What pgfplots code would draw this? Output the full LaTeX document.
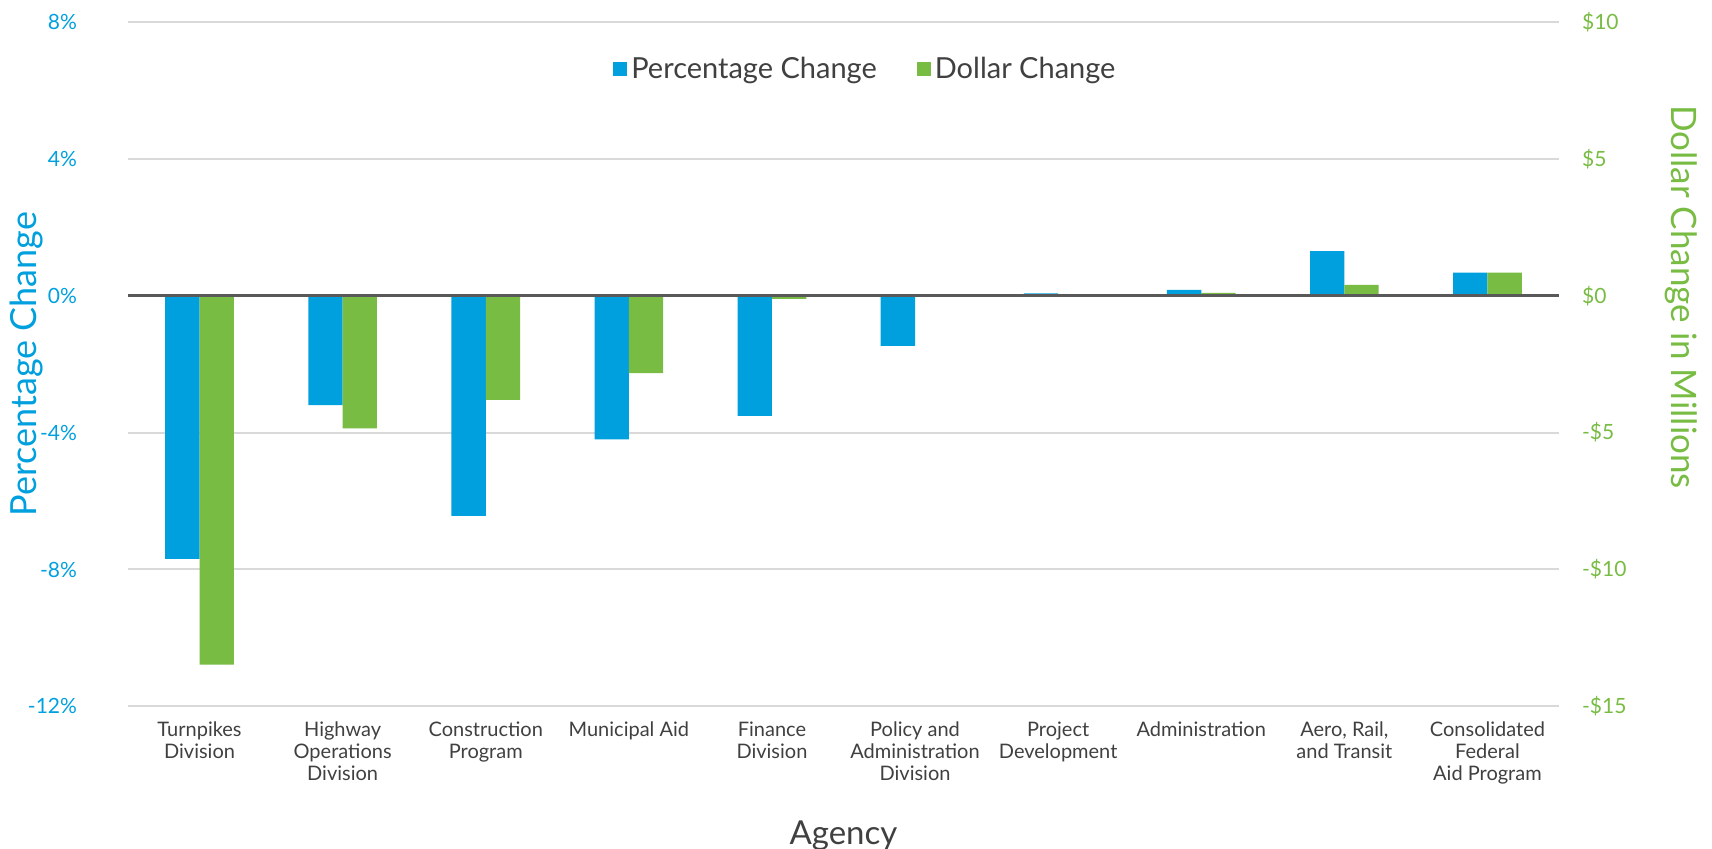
\documentclass[border=0pt]{standalone}
\usepackage{fontspec}
\setmainfont{Lato}
\usepackage{pgfplots}
\pgfplotsset{compat=1.18}
\definecolor{cblue}{RGB}{0,160,223}
\definecolor{cgreen}{RGB}{120,188,67}
\definecolor{cgrid}{RGB}{217,217,217}
\definecolor{ctext}{RGB}{64,64,64}
\definecolor{czero}{RGB}{89,89,89}
\pgfplotsset{
  sqlegend/.style={legend image code/.code={\fill[##1] (0pt,-3.5pt) rectangle (7pt,3.5pt);}},
  common/.style={
    at={(0pt,0pt)}, anchor=south west,
    scale only axis, width=715.5pt, height=342.3pt,
    xmin=-0.5, xmax=9.5,
    ybar, bar width=0.24,
    axis line style={draw=none},
    major tick length=0pt,
    tick style={draw=none},
    /pgf/number format/assume math mode=true,
  }
}
\begin{document}
\begin{tikzpicture}
\begin{axis}[common,
  ymin=-12, ymax=8, ytick={-12,-8,-4,0,4,8},
  yticklabels={-12\%,-8\%,-4\%,0\%,4\%,8\%},
  yticklabel style={anchor=east, xshift=-22pt, text=cblue, font=\fontsize{10.5}{12}\selectfont},
  ymajorgrids, major grid style={cgrid, line width=1pt},
  xtick={0,...,9},
  xticklabels={{Turnpikes\\Division},{Highway\\Operations\\Division},{Construction\\Program},{Municipal Aid},{Finance\\Division},{Policy and\\Administration\\Division},{Project\\Development},{Administration},{Aero, Rail,\\and Transit},{Consolidated\\Federal\\Aid Program}},
  xticklabel style={align=center, anchor=north, yshift=-4pt, text=ctext, font=\fontsize{10}{11}\selectfont},
  xlabel={Agency},
  every axis x label/.style={at={(axis description cs:0.5,0)}, yshift=-64.5pt, anchor=center, text=ctext, font=\fontsize{16.5}{19}\selectfont},
  ylabel={Percentage Change},
  every axis y label/.style={at={(axis description cs:0,0.5)}, xshift=-50.5pt, rotate=90, anchor=center, text=cblue, font=\fontsize{18}{21}\selectfont},
  legend style={at={(0.516,0.931)}, anchor=center, draw=none, fill=none, legend columns=2,
    font=\fontsize{14.5}{16}\selectfont, text=ctext,
    /tikz/every even column/.append style={column sep=18pt},
    legend cell align=left},
]
\addplot[fill=cblue, draw=none, bar shift=-0.12, sqlegend] coordinates {
  (0,-7.69) (1,-3.2) (2,-6.43) (3,-4.2) (4,-3.51) (5,-1.47) (6,0.07) (7,0.17) (8,1.3) (9,0.67)};
\addlegendentry{Percentage Change}
\addlegendimage{fill=cgreen, draw=none, sqlegend}
\addlegendentry{Dollar Change}
\end{axis}
\begin{axis}[common,
  ymin=-15, ymax=10, ytick={-15,-10,-5,0,5,10},
  yticklabels={-\$15,-\$10,-\$5,\$0,\$5,\$10},
  axis y line*=right, axis x line=none,
  yticklabel style={anchor=west, xshift=8pt, text=cgreen, font=\fontsize{10.5}{12}\selectfont},
  ylabel={Dollar Change in Millions},
  every axis y label/.style={at={(axis description cs:1,0.598)}, xshift=61pt, rotate=-90, anchor=center, text=cgreen, font=\fontsize{17.5}{20}\selectfont},
]
\addplot[fill=cgreen, draw=none, bar shift=0.12] coordinates {
  (0,-13.47) (1,-4.85) (2,-3.81) (3,-2.83) (4,-0.12) (5,0) (6,0) (7,0.1) (8,0.39) (9,0.84)};
\draw[czero, line width=1.2pt] (axis cs:-0.5,0) -- (axis cs:9.5,0);
\end{axis}
\pgfresetboundingbox
\path (-64pt,-70.8pt) rectangle (792pt,353.2pt);
\end{tikzpicture}
\end{document}
